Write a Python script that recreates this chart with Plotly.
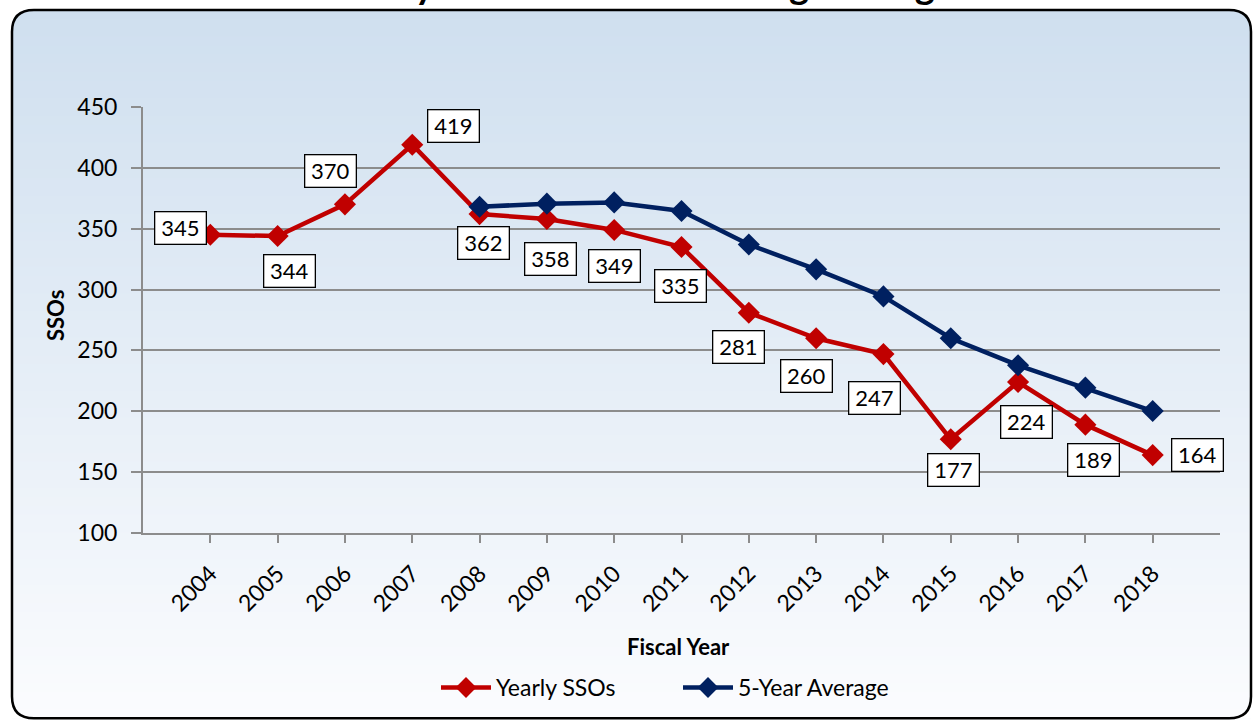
import plotly.graph_objects as go

years = [2004, 2005, 2006, 2007, 2008, 2009, 2010, 2011, 2012, 2013, 2014, 2015, 2016, 2017, 2018]
yearly_ssos = [345, 344, 370, 419, 362, 358, 349, 335, 281, 260, 247, 177, 224, 189, 164]
avg_years = [2008, 2009, 2010, 2011, 2012, 2013, 2014, 2015, 2016, 2017, 2018]
five_year_avg = [368, 370.6, 371.6, 364.6, 337, 316.6, 294.4, 260, 237.8, 219.4, 200.2]
tick_labels = [str(y) for y in years]
y_ticks = [100, 150, 200, 250, 300, 350, 400, 450]

# label offsets (pixels) for the data-label boxes
label_dx = [-30, 12, -14, 41, 4, 4, 0, -1, -10, -10, -9, 3, 8, 8, 45]
label_dy = [7, -35, 33, 19, -29, -40, -36, -39, -34, -38, -44, -31, -40, -35, 0]

W, H = 1257, 721
L, R, T, B = 143, 1220, 107, 537
PW, PH = R - L, B - T


def PX(x):
    return (x - L) / PW


def PY(y):
    return (B - y) / PH


FONT = "Lato"
RED = "#C00000"
NAVY = "#002060"

fig = go.Figure()
fig.add_trace(go.Scatter(
    x=years, y=yearly_ssos, name="Yearly SSOs", mode="lines+markers",
    line=dict(color=RED, width=4.5),
    marker=dict(symbol="diamond", size=17, color=RED),
))
fig.add_trace(go.Scatter(
    x=avg_years, y=five_year_avg, name="5-Year Average", mode="lines+markers",
    line=dict(color=NAVY, width=4.5),
    marker=dict(symbol="diamond", size=17, color=NAVY),
))

shapes = []
# gradient background inside the rounded frame
left, right, top, bottom, rad = 12, 1251, 9, 724, 22
n = 80
c0 = (207, 223, 239)
c1 = (251, 252, 254)
for i in range(n):
    ya = top + (bottom - top) * i / n
    yb = top + (bottom - top) * (i + 1) / n + 1
    t = (i + 0.5) / n
    col = "rgb(%d,%d,%d)" % tuple(round(a + (b - a) * t) for a, b in zip(c0, c1))
    shapes.append(dict(type="rect", xref="paper", yref="paper", layer="below",
                       x0=PX(left), x1=PX(right), y0=PY(yb), y1=PY(ya),
                       fillcolor=col, line=dict(width=0)))


def corner(cx, cy, sx, sy):
    # white patch between the square corner and the rounded arc
    p = "M %f,%f L %f,%f Q %f,%f %f,%f Z" % (
        PX(cx), PY(cy), PX(cx + sx * rad), PY(cy), PX(cx), PY(cy), PX(cx), PY(cy + sy * rad))
    return dict(type="path", xref="paper", yref="paper", layer="below", path=p,
                fillcolor="white", line=dict(width=0))


shapes += [corner(left, top, 1, 1), corner(right, top, -1, 1),
           corner(left, bottom, 1, -1), corner(right, bottom, -1, -1)]

frame = ("M %f,%f L %f,%f Q %f,%f %f,%f L %f,%f Q %f,%f %f,%f L %f,%f Q %f,%f %f,%f "
         "L %f,%f Q %f,%f %f,%f Z") % (
    PX(left + rad), PY(top), PX(right - rad), PY(top),
    PX(right), PY(top), PX(right), PY(top + rad),
    PX(right), PY(bottom - rad),
    PX(right), PY(bottom), PX(right - rad), PY(bottom),
    PX(left + rad), PY(bottom),
    PX(left), PY(bottom), PX(left), PY(bottom - rad),
    PX(left), PY(top + rad),
    PX(left), PY(top), PX(left + rad), PY(top))
shapes.append(dict(type="path", xref="paper", yref="paper", layer="above", path=frame,
                   line=dict(color="black", width=2.5)))

annotations = []
for x, v, dx, dy in zip(years, yearly_ssos, label_dx, label_dy):
    annotations.append(dict(
        x=x, y=v, xref="x", yref="y", text=str(v), showarrow=False,
        xshift=dx, yshift=dy, width=50, height=31,
        bgcolor="white", bordercolor="black", borderwidth=1.3, borderpad=0,
        font=dict(family=FONT, size=22, color="black"),
    ))

annotations.append(dict(
    x=PX(642), y=PY(8), xref="paper", yref="paper", xanchor="center", yanchor="bottom",
    text="<b>Yearly SSOs & 5-Year Rolling Average</b>", showarrow=False,
    font=dict(family=FONT, size=38, color="black"),
))
annotations.append(dict(
    x=PX(55), y=PY(318), xref="paper", yref="paper", xanchor="center", yanchor="middle",
    text="<b>SSOs</b>", showarrow=False,
    textangle=-90, font=dict(family=FONT, size=22, color="black"),
))
annotations.append(dict(
    x=PX(678), y=PY(652), xref="paper", yref="paper", xanchor="center", yanchor="middle",
    text="<b>Fiscal Year</b>", showarrow=False,
    font=dict(family=FONT, size=22, color="black"),
))

fig.update_layout(
    width=W, height=H,
    margin=dict(l=L, r=W - R, t=T, b=H - B, pad=0),
    paper_bgcolor="white", plot_bgcolor="rgba(0,0,0,0)",
    shapes=shapes, annotations=annotations,
    showlegend=True,
    legend=dict(orientation="h", x=PX(436), xanchor="left", y=PY(693), yanchor="middle",
                font=dict(family=FONT, size=23, color="black"), bgcolor="rgba(0,0,0,0)",
                entrywidth=177, entrywidthmode="pixels", itemwidth=50, tracegroupgap=0),
    font=dict(family=FONT, color="black"),
)
fig.update_xaxes(
    range=[2003, 2019], tickmode="array", tickvals=years, ticktext=tick_labels,
    tickangle=-45, ticks="outside", ticklen=8, tickwidth=2, tickcolor="#8c8c8c",
    showline=True, linecolor="#8c8c8c", linewidth=2, showgrid=False, zeroline=False,
    tickfont=dict(family=FONT, size=23, color="black"), ticklabelstandoff=8,
)
fig.update_yaxes(
    range=[100, 450], tickmode="array", tickvals=y_ticks,
    ticks="outside", ticklen=10, tickwidth=2, tickcolor="#8c8c8c",
    showline=True, linecolor="#8c8c8c", linewidth=2,
    showgrid=True, gridcolor="#8c8c8c", gridwidth=2, zeroline=False,
    tickfont=dict(family=FONT, size=23, color="black"), ticklabelstandoff=9,
)

fig.write_html("out.html", config={"displayModeBar": False},
               post_script="document.body.style.margin='0';document.body.style.padding='0';")
